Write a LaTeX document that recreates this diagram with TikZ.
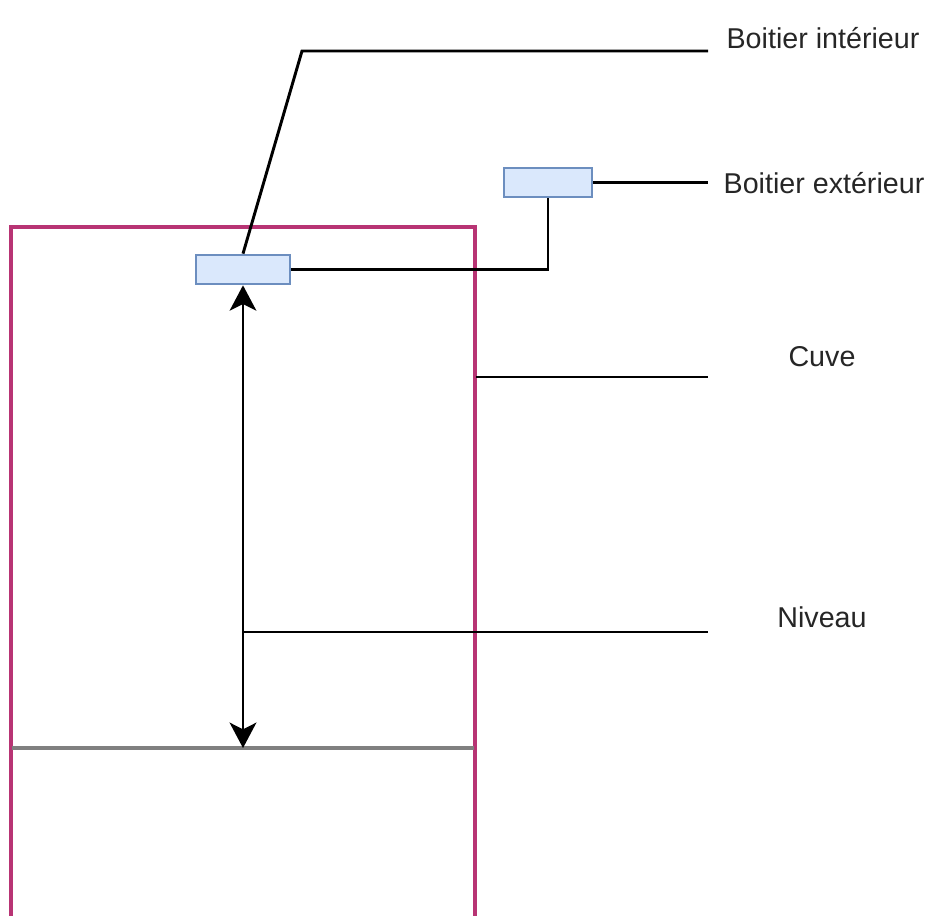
\documentclass[tikz,border=0pt]{standalone}
\usepackage{fontspec}
\setmainfont{Liberation Sans}
\usetikzlibrary{arrows.meta}
\definecolor{cuvecol}{RGB}{184,52,116}
\definecolor{boxfill}{RGB}{218,232,252}
\definecolor{boxdraw}{RGB}{108,142,191}
\tikzset{every picture/.style={line width=2pt}}
\tikzset{
  boitier/.style={draw=boxdraw, fill=boxfill, line width=2pt, inner sep=0pt,
    minimum width=70.5pt, minimum height=21.75pt},
  lien/.style={draw=black, line width=2.2pt},
  legende/.style={inner sep=0.75pt, font=\fontsize{21.5}{26}\selectfont, text=black!85}
}

\begin{document}
\begin{tikzpicture}[x=0.75pt,y=0.75pt,yscale=-1,xscale=1]
\useasboundingbox (0,0) rectangle (928,916);

%Shape: Cuve
\draw [cuvecol, line width=2.3pt]  (11,916) -- (11,227) -- (475,227) -- (475,916) ;
%Straight Lines: niveau
\draw [gray, line width=2.4pt]  (12,748) -- (474,748) ;

% Boitiers
\node [boitier] (inner) at (243,269.5) {};
\node [boitier, minimum width=66pt] (outer) at (548,182.5) {};

% Coordinates
\coordinate (coude) at (302,51);
\coordinate (endin) at (708,51);
\coordinate (endout) at (708,182.5);
\coordinate (cuve) at (476,377);
\coordinate (endcuve) at (708,377);
\coordinate (fond) at (243,748);
\coordinate (niv) at (243,632);
\coordinate (endniv) at (708,632);

% Text Nodes
\node [legende] (lblin) at (823,38) {Boitier intérieur};
\node [legende] (lblout) at (824,183) {Boitier extérieur};
\node [legende] (lblcuve) at (822,357) {Cuve};
\node [legende] (lblniv) at (822,617) {Niveau};

% Connectors
\draw [lien]  (inner.north) -- (coude) -- (endin) ;
\draw [lien]  (outer.east) -- (endout) ;
\draw [lien]  (inner.east) -| (outer.south) ;
\draw [lien]  (cuve) -- (endcuve) ;
\draw [lien]  (niv) -- (endniv) ;
\draw [lien, {Stealth[length=19pt,width=20pt,inset=5pt]}-{Stealth[length=19pt,width=20pt,inset=5pt]}]  (inner.south) -- (fond) ;

\end{tikzpicture}
\end{document}
